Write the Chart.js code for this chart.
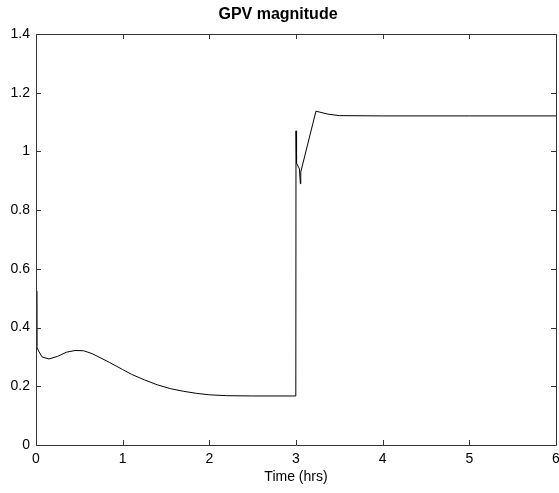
<!DOCTYPE html>
<html>
<head>
<meta charset="utf-8">
<script src="https://cdn.jsdelivr.net/npm/chart.js@4/dist/chart.umd.min.js"></script>
<style>
html,body{margin:0;padding:0;background:#fff;}
#wrap{width:559px;height:493px;}
</style>
</head>
<body>
<div id="wrap"><canvas id="c" width="559" height="493"></canvas></div>
<script>
const timeHrs = [0.006, 0.009, 0.03, 0.07, 0.15, 0.25, 0.35, 0.45, 0.55, 0.65, 0.75, 0.85, 1.0, 1.1, 1.25, 1.4, 1.55, 1.7, 1.85, 2.0, 2.2, 2.5, 2.998,
  3.0, 3.003, 3.006, 3.01, 3.04, 3.05, 3.055, 3.23, 3.37, 3.5, 4.0, 5.0, 6.0];
const gpvMagnitude = [0.525, 0.335, 0.32, 0.30, 0.293, 0.302, 0.316, 0.322, 0.321, 0.311, 0.296, 0.281, 0.257, 0.241, 0.222, 0.205, 0.192, 0.183, 0.176, 0.171, 0.168, 0.167, 0.167,
  1.07, 0.98, 1.04, 0.96, 0.94, 0.89, 0.93, 1.137, 1.127, 1.122, 1.121, 1.121, 1.121];
const xTicks = [0, 1, 2, 3, 4, 5, 6];
const yTicks = [0, 0.2, 0.4, 0.6, 0.8, 1.0, 1.2, 1.4];

const points = timeHrs.map((t, i) => ({x: t, y: gpvMagnitude[i]}));
const FONT = "'Liberation Sans', Arial, Helvetica, sans-serif";
const AXIS = '#333333';

const boxPlugin = {
  id: 'matlabBox',
  afterDraw(chart) {
    const {ctx, chartArea: a, scales} = chart;
    ctx.save();
    ctx.strokeStyle = AXIS;
    ctx.lineWidth = 1;
    ctx.beginPath();
    ctx.rect(Math.round(a.left) + 0.5, Math.round(a.top) + 0.5, Math.round(a.right - a.left), Math.round(a.bottom - a.top));
    ctx.stroke();
    const L = 5;
    ctx.beginPath();
    xTicks.forEach(v => {
      const px = Math.round(scales.x.getPixelForValue(v)) + 0.5;
      ctx.moveTo(px, a.bottom); ctx.lineTo(px, a.bottom - L);
      ctx.moveTo(px, a.top); ctx.lineTo(px, a.top + L);
    });
    yTicks.forEach(v => {
      const py = Math.round(scales.y.getPixelForValue(v)) + 0.5;
      ctx.moveTo(a.left, py); ctx.lineTo(a.left + L, py);
      ctx.moveTo(a.right, py); ctx.lineTo(a.right - L, py);
    });
    ctx.stroke();
    ctx.restore();
  }
};

new Chart(document.getElementById('c'), {
  type: 'line',
  data: {
    datasets: [{
      data: points,
      borderColor: '#000000',
      borderWidth: 1,
      pointRadius: 0,
      tension: 0,
      fill: false,
      clip: false
    }]
  },
  options: {
    responsive: false,
    animation: false,
    devicePixelRatio: 1,
    layout: {padding: {left: 0, right: 3, top: 0, bottom: 0}},
    plugins: {
      legend: {display: false},
      tooltip: {enabled: false},
      title: {
        display: true,
        text: 'GPV magnitude',
        color: '#000',
        font: {family: FONT, size: 16, weight: 'bold', lineHeight: 1.2},
        padding: {top: 5, bottom: 9.8}
      }
    },
    scales: {
      x: {
        type: 'linear',
        min: 0, max: 6,
        afterBuildTicks: s => { s.ticks = xTicks.map(v => ({value: v})); },
        afterFit: s => { s.height = 48; s.paddingLeft = 0; s.paddingRight = 0; },
        grid: {display: false, drawTicks: false},
        border: {display: false},
        ticks: {color: '#000', padding: 6, maxRotation: 0, font: {family: FONT, size: 14}},
        title: {display: true, text: 'Time (hrs)', color: '#000', font: {family: FONT, size: 14}, padding: {top: 0, bottom: 7}}
      },
      y: {
        type: 'linear',
        min: 0, max: 1.4,
        afterBuildTicks: s => { s.ticks = yTicks.map(v => ({value: v})); },
        afterFit: s => { s.width = 36; s.paddingTop = 0; s.paddingBottom = 0; },
        grid: {display: false, drawTicks: false},
        border: {display: false},
        ticks: {color: '#000', padding: 6, font: {family: FONT, size: 14}, callback: v => String(Math.round(v * 10) / 10)}
      }
    }
  },
  plugins: [boxPlugin]
});
</script>
</body>
</html>
